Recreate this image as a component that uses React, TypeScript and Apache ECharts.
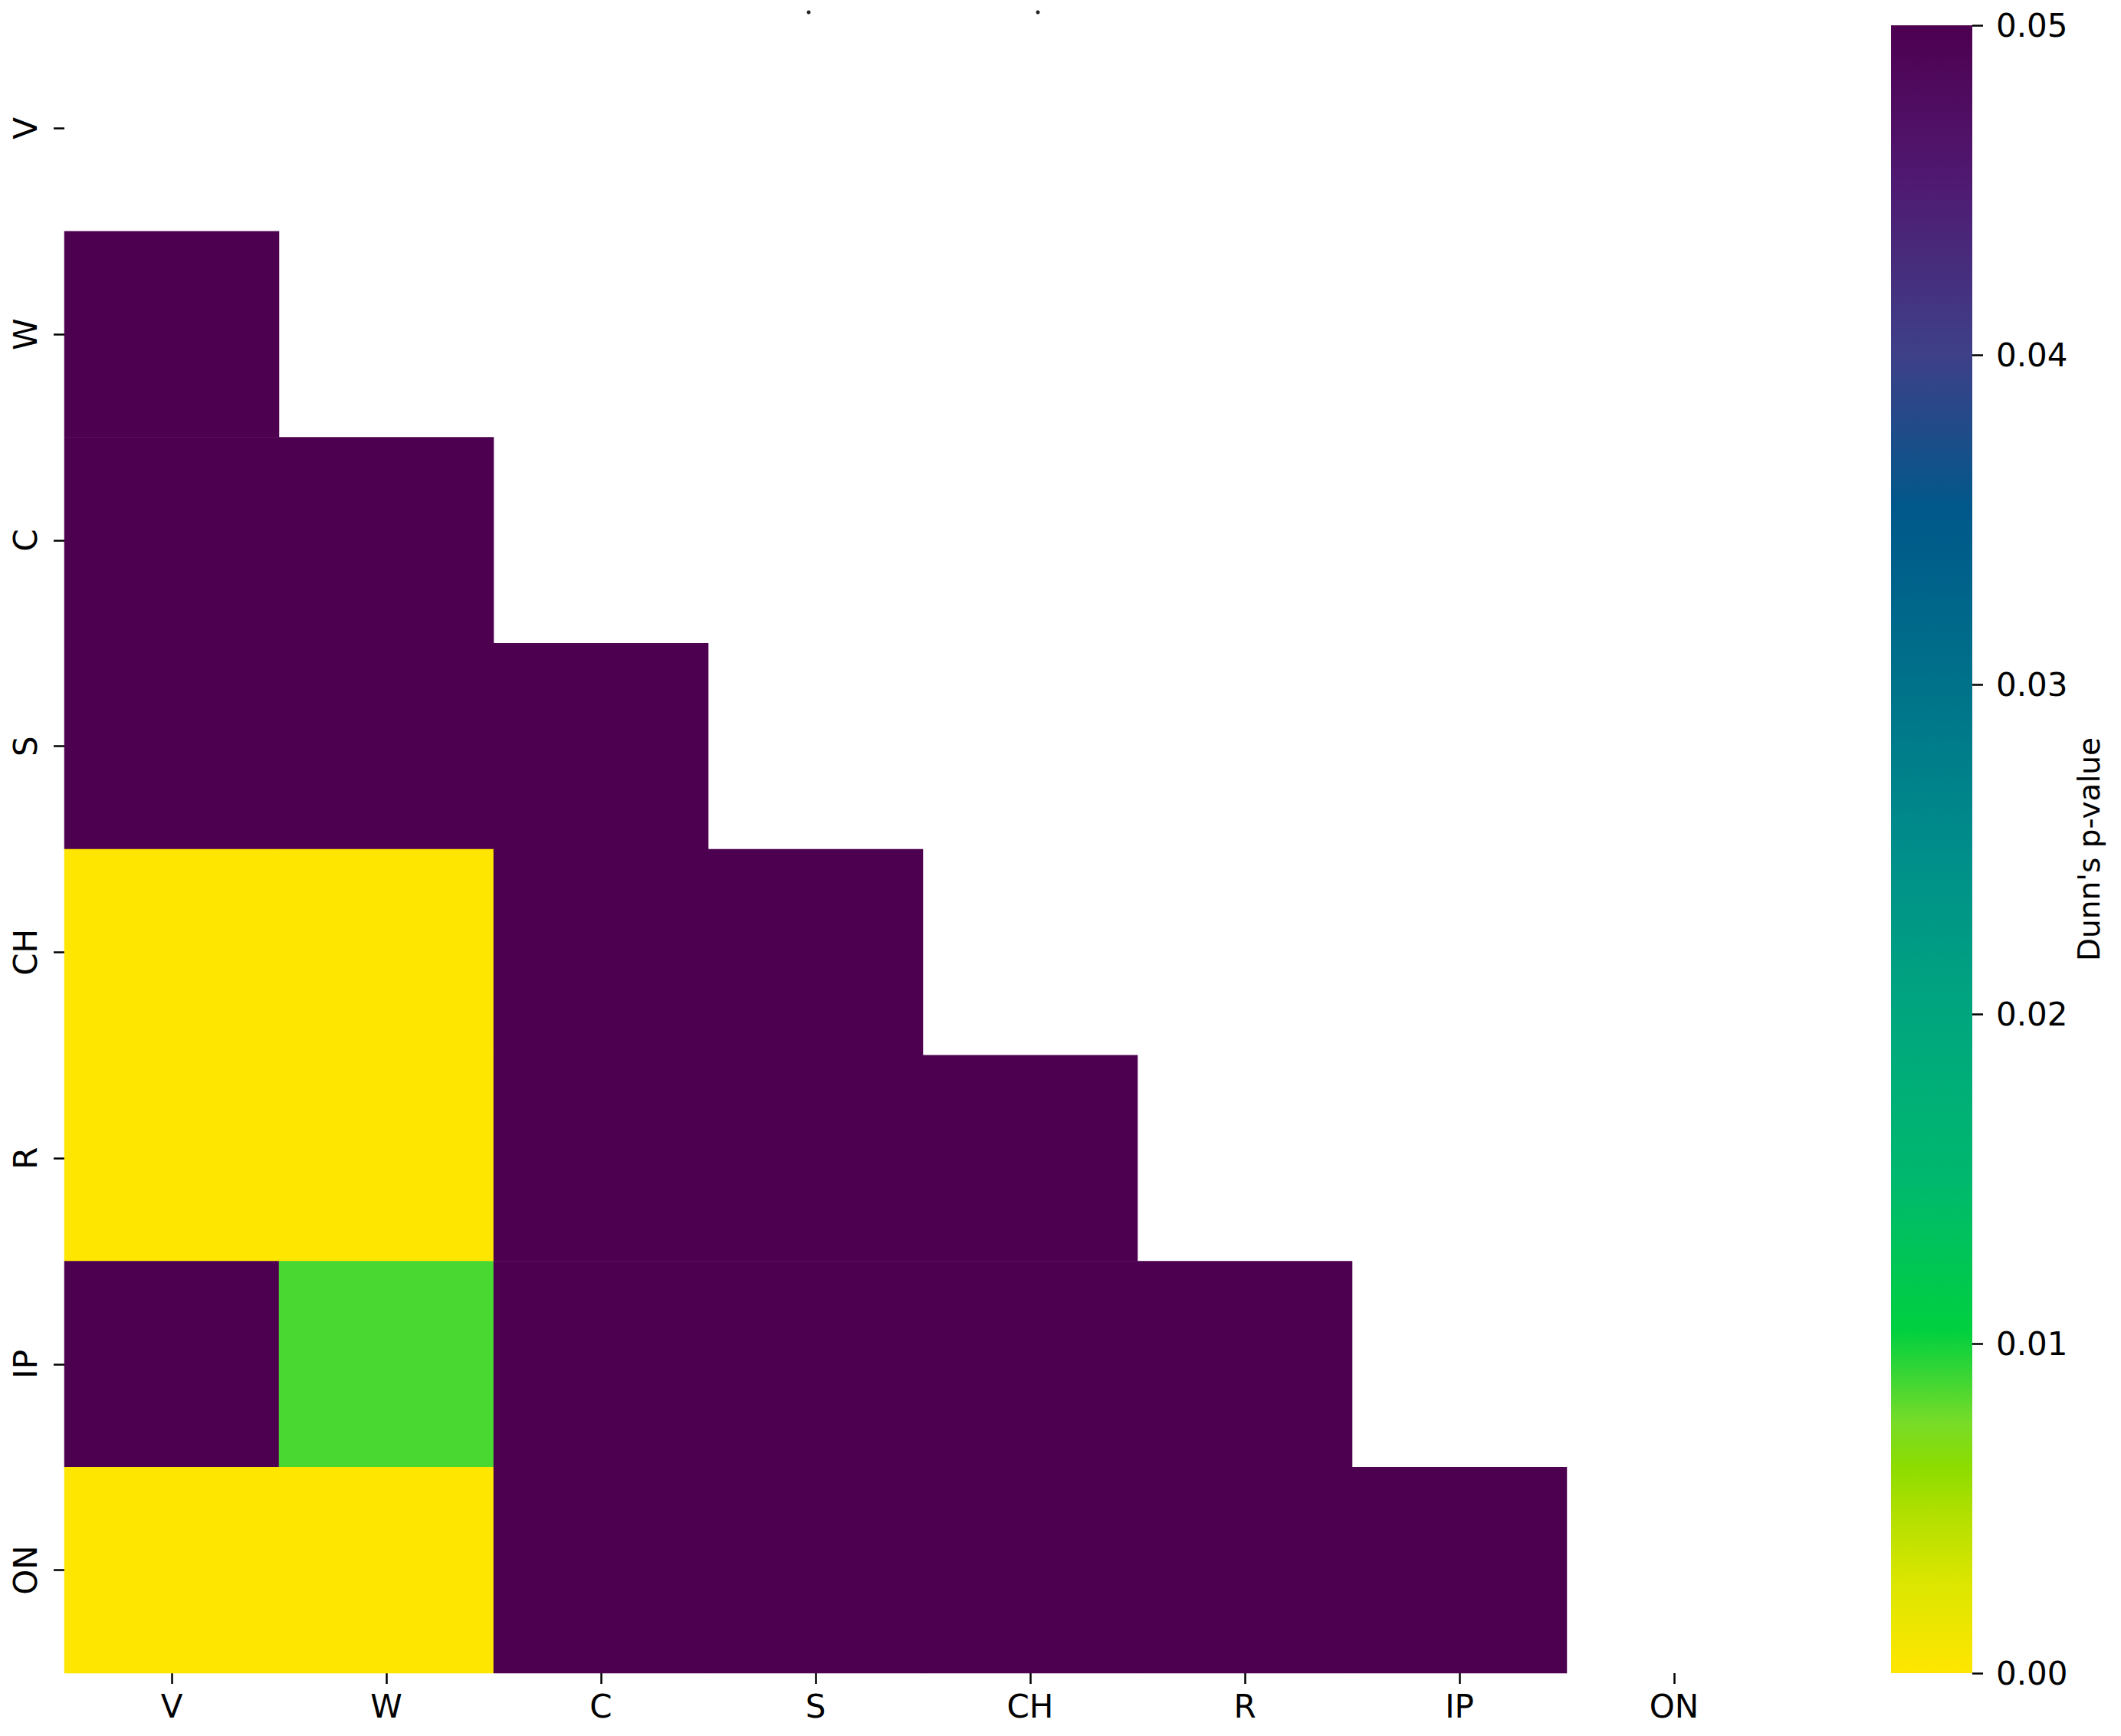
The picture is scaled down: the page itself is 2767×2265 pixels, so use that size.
import React, { useEffect, useRef } from "react";
import * as echarts from "echarts";

// ---- Data ----
const categories = ["V", "W", "C", "S", "CH", "R", "IP", "ON"];

// Lower-triangle Dunn's p-values (null = masked cell), rows top -> bottom
const rowV: (number | null)[] = [null, null, null, null, null, null, null, null];
const rowW: (number | null)[] = [0.05, null, null, null, null, null, null, null];
const rowC: (number | null)[] = [0.05, 0.05, null, null, null, null, null, null];
const rowS: (number | null)[] = [0.05, 0.05, 0.05, null, null, null, null, null];
const rowCH: (number | null)[] = [0.0, 0.0, 0.05, 0.05, null, null, null, null];
const rowR: (number | null)[] = [0.0, 0.0, 0.05, 0.05, 0.05, null, null, null];
const rowIP: (number | null)[] = [0.05, 0.0087, 0.05, 0.05, 0.05, 0.05, null, null];
const rowON: (number | null)[] = [0.0, 0.0, 0.05, 0.05, 0.05, 0.05, 0.05, null];
const matrixRows = [rowV, rowW, rowC, rowS, rowCH, rowR, rowIP, rowON];

const colorbarTicks = [0, 0.01, 0.02, 0.03, 0.04, 0.05];
const colorbarLabel = "Dunn's p-value";

// Colormap stops: [value, colour]
const cmapValues = [0, 0.0027, 0.0047, 0.0063, 0.0076, 0.0104, 0.015, 0.02, 0.0247, 0.03, 0.0353, 0.04, 0.0455, 0.05];
const cmapColors = ["#ffe600", "#dce600", "#b4e000", "#8cdc00", "#78dc28", "#00d040", "#00b86e", "#00a67e", "#008f8a", "#00728a", "#00588a", "#3e4088", "#501870", "#4e0050"];

function hexToRgb(h: string) {
  const n = parseInt(h.slice(1), 16);
  return [(n >> 16) & 255, (n >> 8) & 255, n & 255];
}
function sampleCmap(v: number) {
  for (let i = 0; i < cmapValues.length - 1; i++) {
    const a = cmapValues[i], b = cmapValues[i + 1];
    if (v <= b) {
      const t = (v - a) / (b - a);
      const ca = hexToRgb(cmapColors[i]), cb = hexToRgb(cmapColors[i + 1]);
      const c = ca.map((x, k) => Math.round(x + (cb[k] - x) * t));
      return `rgb(${c[0]},${c[1]},${c[2]})`;
    }
  }
  return cmapColors[cmapColors.length - 1];
}

export default function App() {
  const ref = useRef<HTMLDivElement>(null);
  useEffect(() => {
    if (!ref.current) return;
    const chart = echarts.init(ref.current, undefined, { renderer: "svg" });

    const vmin = 0, vmax = 0.05;
    const gradient: string[] = [];
    const N = 200;
    for (let i = 0; i <= N; i++) gradient.push(sampleCmap(vmin + (vmax - vmin) * (i / N)));

    const data: [number, number, number][] = [];
    matrixRows.forEach((row, yi) =>
      row.forEach((v, xi) => {
        if (v !== null) data.push([xi, yi, v]);
      })
    );

    const font = "DejaVu Sans";
    const gridL = 84, gridT = 33, gridW = 2240, gridH = 2150;
    const cbL = 2467, cbW = 106;

    const barStops = cmapValues.map((v, i) => ({
      offset: 1 - (v - vmin) / (vmax - vmin),
      color: cmapColors[i],
    })).reverse();

    chart.setOption({
      animation: false,
      backgroundColor: "#ffffff",
      grid: [
        { left: gridL, top: gridT, width: gridW, height: gridH },
        { left: cbL, top: gridT, width: cbW, height: gridH },
      ],
      xAxis: [
        {
          type: "category",
          gridIndex: 0,
          data: categories,
          position: "bottom",
          axisLine: { show: false },
          axisTick: { show: true, alignWithLabel: true, length: 14, lineStyle: { color: "#000", width: 2.5 } },
          axisLabel: { fontFamily: font, fontSize: 42, color: "#000", margin: 22 },
          splitLine: { show: false },
        },
        { type: "category", gridIndex: 1, show: false, data: [""] },
      ],
      yAxis: [
        {
          type: "category",
          gridIndex: 0,
          data: categories,
          inverse: true,
          axisLine: { show: false },
          axisTick: { show: true, alignWithLabel: true, length: 14, lineStyle: { color: "#000", width: 2.5 } },
          axisLabel: { fontFamily: font, fontSize: 42, color: "#000", rotate: 90, margin: 30 },
          splitLine: { show: false },
        },
        {
          type: "value",
          gridIndex: 1,
          position: "right",
          min: 0,
          max: 0.05,
          interval: 0.01,
          axisLine: { show: false, onZero: false },
          axisTick: { show: true, length: 14, lineStyle: { color: "#000", width: 2.5 } },
          axisLabel: {
            fontFamily: font,
            fontSize: 42,
            color: "#000",
            margin: 31,
            formatter: (v: number) => (colorbarTicks.some((t) => Math.abs(t - v) < 1e-9) ? v.toFixed(2) : ""),
          },
          splitLine: { show: false },
        },
      ],
      visualMap: {
        type: "continuous",
        show: false,
        min: vmin,
        max: vmax,
        seriesIndex: 0,
        inRange: { color: gradient },
      },
      graphic: [
        {
          type: "rect",
          shape: { x: cbL, y: gridT, width: cbW, height: gridH },
          style: {
            fill: new echarts.graphic.LinearGradient(0, 0, 0, 1, barStops),
          },
          silent: true,
        },
        {
          type: "text",
          x: 2725,
          y: 1108,
          rotation: Math.PI / 2,
          style: {
            text: colorbarLabel,
            fontFamily: font,
            fontSize: 39,
            fill: "#000",
            align: "center",
            verticalAlign: "middle",
          },
        },
        { type: "circle", shape: { cx: 1055, cy: 16, r: 2.5 }, style: { fill: "#222" } },
        { type: "circle", shape: { cx: 1354, cy: 16, r: 2.5 }, style: { fill: "#222" } },
      ],
      series: [
        {
          type: "heatmap",
          xAxisIndex: 0,
          yAxisIndex: 0,
          data,
          itemStyle: { borderWidth: 0 },
          emphasis: { disabled: true },
          label: { show: false },
        },
      ],
    });
    return () => chart.dispose();
  }, []);
  return <div ref={ref} style={{ position: "fixed", left: 0, top: 0, width: 2767, height: 2265 }} />;
}
